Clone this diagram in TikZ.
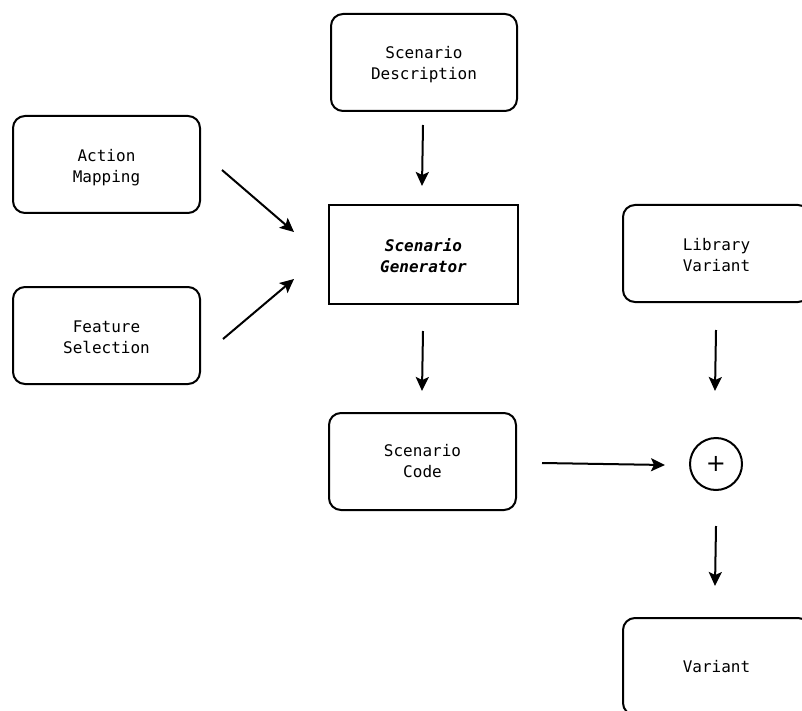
\documentclass[tikz,border=0pt]{standalone}
\usepackage{fontspec}
\setmonofont{DejaVu Sans Mono}
\newfontfamily\plusfont{DejaVu Sans}
\usetikzlibrary{arrows.meta}
\newcommand{\lift}[1]{\rule{0pt}{#1}}
\tikzset{
  rbox/.style={draw, line width=2pt, rounded corners=12pt, minimum width=187pt, minimum height=97pt, align=center, font=\ttfamily\fontsize{16}{21}\selectfont, inner sep=0pt},
  sbox/.style={draw, line width=2pt, minimum width=189pt, minimum height=99pt, align=center, font=\ttfamily\bfseries\itshape\fontsize{16}{21}\selectfont, inner sep=0pt},
  sumnode/.style={draw, circle, line width=2pt, minimum size=52pt, inner sep=0pt, font=\plusfont\fontsize{24}{24}\selectfont},
  arr/.style={line width=2pt, -{Stealth[length=14pt, width=13pt, inset=3pt]}}
}
\begin{document}
\begin{tikzpicture}[x=1pt, y=-1pt]
\useasboundingbox (0,0) rectangle (802,711);
\clip (0,0) rectangle (802,711);
\fill[white] (0,0) rectangle (802,711);
\node[rbox] (am) at (106.5,164.5) {\lift{19pt}Action\\Mapping};
\node[rbox] (fs) at (106.5,335.5) {\lift{15pt}Feature\\Selection};
\node[rbox, minimum width=186pt] (sd) at (424,62.5) {\lift{17pt}Scenario\\Description};
\node[sbox] (sg) at (423.5,254.5) {\lift{15pt}Scenario\\Generator};
\node[rbox] (sc) at (422.5,461.5) {Scenario\\Code};
\node[rbox] (lv) at (716.5,253.5) {\lift{15pt}Library\\Variant};
\node[rbox] (v) at (716.5,666.5) {Variant};
\node[sumnode] (sum) at (716,464) {+};
% connector end points
\coordinate (sd-out) at (423,125);
\coordinate (sg-in1) at (422,186);
\coordinate (am-out) at (222,170);
\coordinate (sg-in2) at (294,232);
\coordinate (fs-out) at (223,339);
\coordinate (sg-in3) at (294,279);
\coordinate (sg-out) at (423,331);
\coordinate (sc-in) at (422,391);
\coordinate (lv-out) at (716,330);
\coordinate (sum-in1) at (715,391);
\coordinate (sc-out) at (542,463);
\coordinate (sum-in2) at (665,465);
\coordinate (sum-out) at (716,526);
\coordinate (v-in) at (715,586);
\draw[arr] (sd-out) -- (sg-in1);
\draw[arr] (am-out) -- (sg-in2);
\draw[arr] (fs-out) -- (sg-in3);
\draw[arr] (sg-out) -- (sc-in);
\draw[arr] (lv-out) -- (sum-in1);
\draw[arr] (sc-out) -- (sum-in2);
\draw[arr] (sum-out) -- (v-in);
\end{tikzpicture}
\end{document}
